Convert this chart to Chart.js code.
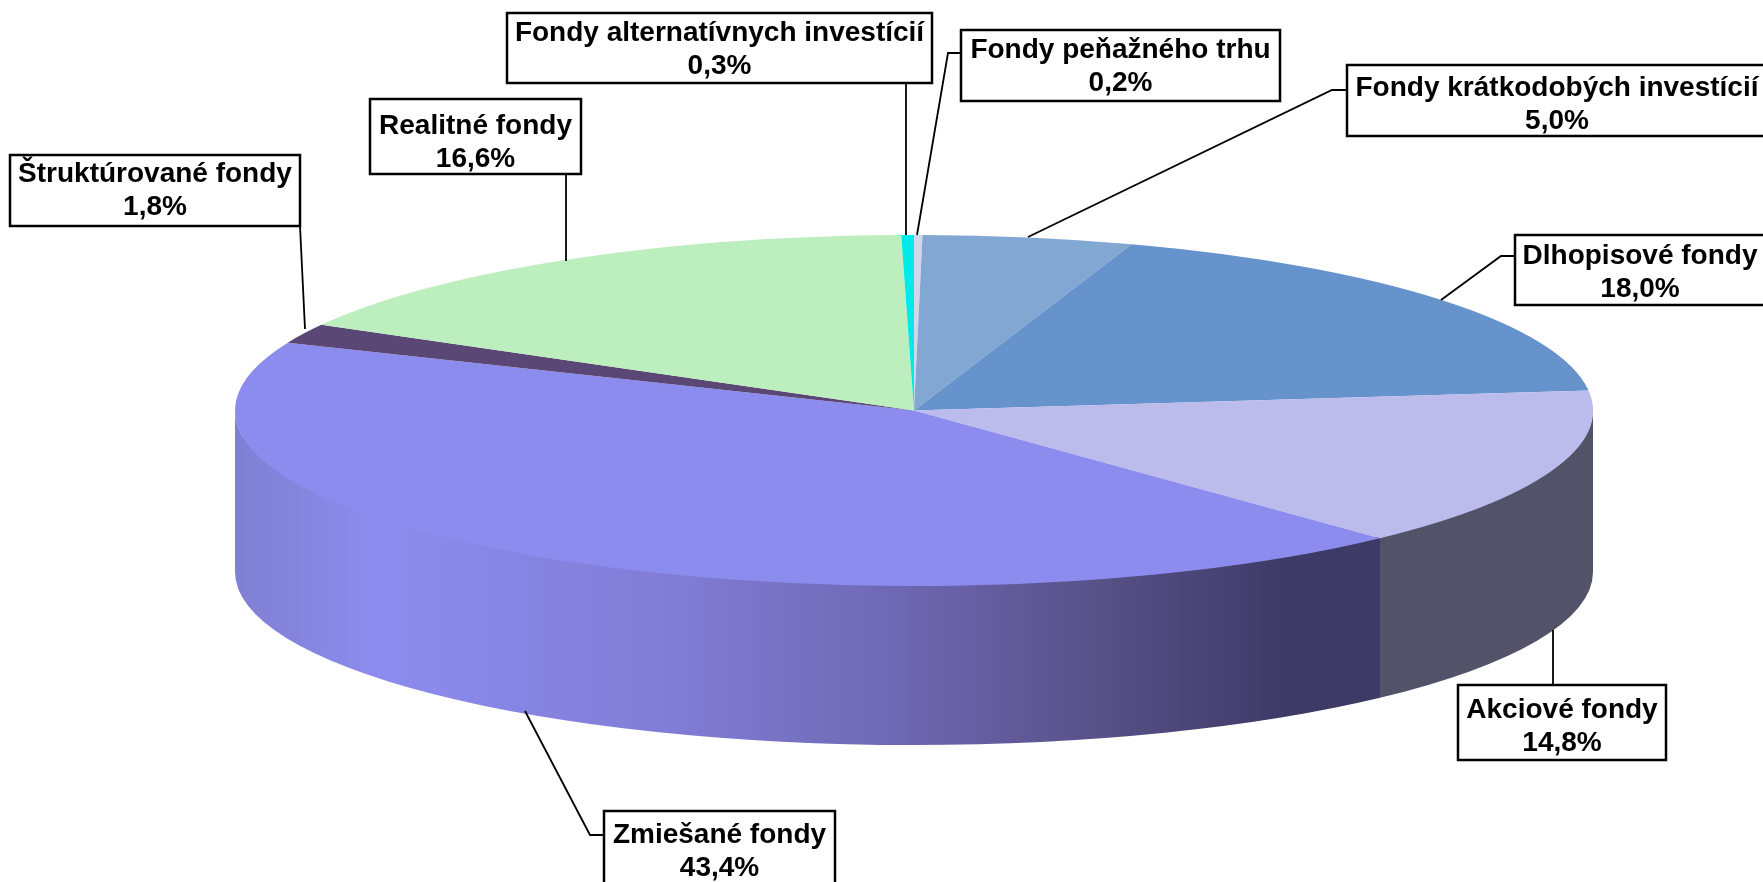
<!DOCTYPE html>
<html>
<head>
<meta charset="utf-8">
<script src="https://cdn.jsdelivr.net/npm/chart.js@4"></script>
<style>
  html, body { margin: 0; padding: 0; background: #fff; overflow: hidden; }
  canvas { display: block; }
</style>
</head>
<body>
<canvas id="pie" width="1763" height="882"></canvas>
<script>
const categories = [
  "Fondy peňažného trhu",
  "Fondy krátkodobých investícií",
  "Dlhopisové fondy",
  "Akciové fondy",
  "Zmiešané fondy",
  "Štruktúrované fondy",
  "Realitné fondy",
  "Fondy alternatívnych investícií"
];
const shares = [0.2, 5.0, 18.0, 14.8, 43.4, 1.8, 16.6, 0.3];

const topColors = ["#D0D8E8", "#83A7D3", "#6693CB", "#BBBCEC", "#8C8CEE", "#5A4775", "#BCEEBE", "#00EAEA"];

// label boxes, same order as categories. textY = first line below the box top
const boxes = [
  { x: 961, y: 30, w: 319, h: 71, textY: 20, leader: [[961, 53], [948, 53], [917, 235]] },
  { x: 1347, y: 65, w: 420, h: 71, textY: 23, leader: [[1347, 90], [1332, 90], [1028, 237]] },
  { x: 1515, y: 235, w: 250, h: 70, textY: 21, leader: [[1515, 256], [1501, 256], [1441, 300]] },
  { x: 1458, y: 685, w: 208, h: 75, textY: 25, leader: [[1553, 685], [1553, 630]] },
  { x: 604, y: 811, w: 231, h: 80, textY: 24, leader: [[604, 835], [590, 835], [525, 711]] },
  { x: 10, y: 155, w: 290, h: 71, textY: 19, leader: [[300, 226], [305, 329]] },
  { x: 370, y: 99, w: 211, h: 75, textY: 27, leader: [[566, 174], [566, 261]] },
  { x: 507, y: 13, w: 425, h: 70, textY: 20, leader: [[906, 83], [906, 235]] }
];

const pieX = 914;
const pieY = 410.5;
const radiusX = 679;
const radiusY = 175.5;
// bottom rim sits a bit flatter than the top face
const rimY = 572;
const rimRadiusY = 173;

function mixedWall(ctx) {
  const g = ctx.createLinearGradient(235, 0, 1381, 0);
  g.addColorStop(0, "#7F7FD3");
  g.addColorStop(0.125, "#8C8CEE");
  g.addColorStop(0.38, "#817DD6");
  g.addColorStop(0.58, "#6E67B2");
  g.addColorStop(0.76, "#565086");
  g.addColorStop(0.92, "#3E3A66");
  g.addColorStop(1, "#3E3A66");
  return g;
}

function drawWall(ctx, arc, fill) {
  const a0 = Math.max(arc.startAngle, 0);
  const a1 = Math.min(arc.endAngle, Math.PI);
  if (a1 <= a0) return;
  ctx.beginPath();
  // top edge runs a little under the face so no white seam shows
  ctx.ellipse(pieX, pieY, radiusX, radiusY - 3, 0, a0, a1);
  ctx.ellipse(pieX, rimY, radiusX, rimRadiusY, 0, a1, a0, true);
  ctx.closePath();
  ctx.fillStyle = fill;
  ctx.fill();
}

const pie3d = {
  id: "pie3d",
  beforeDatasetsDraw(chart) {
    const ctx = chart.ctx;
    const arcs = chart.getDatasetMeta(0).data;
    drawWall(ctx, arcs[4], mixedWall(ctx));
    drawWall(ctx, arcs[3], "#525268");
    // squash the library's circle into the top face
    ctx.save();
    ctx.translate(pieX, pieY);
    ctx.scale(1, radiusY / radiusX);
    ctx.translate(-pieX, -pieY);
  },
  afterDatasetsDraw(chart) {
    const ctx = chart.ctx;
    ctx.restore();

    ctx.strokeStyle = "#000";
    ctx.lineWidth = 1.8;
    boxes.forEach(b => {
      ctx.beginPath();
      b.leader.forEach((p, i) => i ? ctx.lineTo(p[0], p[1]) : ctx.moveTo(p[0], p[1]));
      ctx.stroke();
    });

    ctx.font = "bold 28px 'Liberation Sans', Arial, sans-serif";
    ctx.textAlign = "center";
    ctx.textBaseline = "middle";
    boxes.forEach((b, i) => {
      ctx.fillStyle = "#fff";
      ctx.fillRect(b.x, b.y, b.w, b.h);
      ctx.lineWidth = 2.5;
      ctx.strokeRect(b.x, b.y, b.w, b.h);
      ctx.fillStyle = "#000";
      const mid = b.x + b.w / 2;
      ctx.fillText(categories[i], mid, b.y + b.textY);
      ctx.fillText(shares[i].toFixed(1).replace(".", ",") + "%", mid, b.y + b.textY + 33);
    });
  }
};

new Chart(document.getElementById("pie"), {
  type: "pie",
  data: {
    labels: categories,
    datasets: [{
      data: shares,
      backgroundColor: topColors,
      borderWidth: 0,
      clip: false
    }]
  },
  options: {
    responsive: false,
    animation: false,
    radius: radiusX,
    layout: { padding: { left: pieX * 2 - 1763, bottom: 882 - pieY * 2 } },
    plugins: { legend: { display: false }, tooltip: { enabled: false } }
  },
  plugins: [pie3d]
});
</script>
</body>
</html>
